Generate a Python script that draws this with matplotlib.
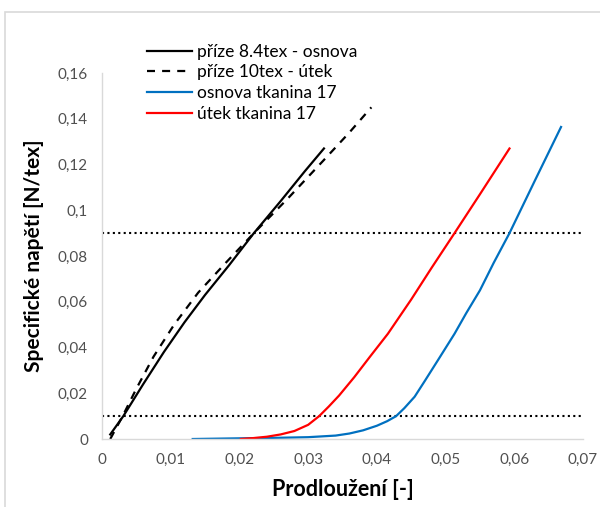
import matplotlib.pyplot as plt
from matplotlib.patches import Rectangle

plt.rcParams['font.family'] = ['Lato', 'DejaVu Sans']

# tensile curves: elongation [-] vs specific stress [N/tex]
yarn_84_x = [0.0012, 0.0031, 0.006, 0.009, 0.012, 0.015, 0.0185, 0.0221, 0.026, 0.0295, 0.0323]
yarn_84_y = [0.002, 0.010, 0.024, 0.038, 0.051, 0.063, 0.076, 0.090, 0.104, 0.117, 0.127]

yarn_10_x = [0.0012, 0.003, 0.005, 0.0075, 0.0105, 0.014, 0.018, 0.0221, 0.027, 0.0323, 0.036, 0.0392]
yarn_10_y = [0.0, 0.010, 0.022, 0.036, 0.050, 0.064, 0.077, 0.090, 0.105, 0.122, 0.134, 0.145]

warp_x = [0.0132, 0.020, 0.025, 0.030, 0.034, 0.036, 0.038, 0.040, 0.0415, 0.0428, 0.044,
          0.0455, 0.047, 0.049, 0.0513, 0.053, 0.055, 0.057, 0.0593, 0.063, 0.0668]
warp_y = [0.0, 0.0003, 0.0005, 0.0008, 0.0015, 0.0024, 0.0038, 0.0058, 0.0078, 0.010, 0.0135,
          0.0185, 0.0255, 0.035, 0.046, 0.055, 0.065, 0.077, 0.090, 0.113, 0.1364]

weft_x = [0.0202, 0.022, 0.024, 0.026, 0.028, 0.030, 0.0316, 0.033, 0.0345, 0.0367, 0.039,
          0.0416, 0.045, 0.048, 0.0513, 0.055, 0.0593]
weft_y = [0.0, 0.0004, 0.001, 0.002, 0.0035, 0.0062, 0.010, 0.0142, 0.019, 0.027, 0.036,
          0.046, 0.061, 0.075, 0.090, 0.107, 0.127]

ref_levels = [0.01, 0.09]

x_ticks = [0, 0.01, 0.02, 0.03, 0.04, 0.05, 0.06, 0.07]
x_labels = ['0', '0,01', '0,02', '0,03', '0,04', '0,05', '0,06', '0,07']
y_ticks = [0, 0.02, 0.04, 0.06, 0.08, 0.1, 0.12, 0.14, 0.16]
y_labels = ['0', '0,02', '0,04', '0,06', '0,08', '0,1', '0,12', '0,14', '0,16']

fig = plt.figure(figsize=(6, 5.07), dpi=100)
# chart area frame (top and left edges visible)
fig.patches.append(Rectangle((0.009, -0.1), 1.2, 1.077, transform=fig.transFigure,
                             fill=False, edgecolor='#d9d9d9', lw=1.2))
ax = fig.add_axes([0.17, 0.1341, 0.8017, 0.7219])

for lvl in ref_levels:
    ax.axhline(lvl, color='black', lw=1.5, linestyle=(0, (1, 1.6)), zorder=1)

ax.plot(yarn_84_x, yarn_84_y, color='black', lw=1.6, label='příze 8.4tex - osnova')
ax.plot(yarn_10_x, yarn_10_y, color='black', lw=1.6, linestyle=(0, (3.6, 3.2)),
        label='příze 10tex - útek')
ax.plot(warp_x, warp_y, color='#0070c0', lw=1.6, label='osnova tkanina 17')
ax.plot(weft_x, weft_y, color='#ff0000', lw=1.6, label='útek tkanina 17')

ax.set_xlim(0, 0.07)
ax.set_ylim(0, 0.16)
ax.set_xticks(x_ticks)
ax.set_xticklabels(x_labels)
ax.set_yticks(y_ticks)
ax.set_yticklabels(y_labels)
ax.tick_params(length=0, labelsize=11, colors='#505050', pad=10)
for s in ['top', 'right']:
    ax.spines[s].set_visible(False)
for s in ['left', 'bottom']:
    ax.spines[s].set_color('#d9d9d9')
    ax.spines[s].set_linewidth(1.0)

ax.set_xlabel('Prodloužení [-]', fontsize=15.5, fontweight='bold', labelpad=9)
ax.set_ylabel('Specifické napětí [N/tex]', fontsize=15, fontweight='bold', labelpad=10)

ax.legend(loc='upper left', bbox_to_anchor=(0.075, 1.104), frameon=False, fontsize=12.5,
          handlelength=2.6, handletextpad=0.3, labelspacing=0.27, borderpad=0)

fig.savefig('out.png', dpi=100)
